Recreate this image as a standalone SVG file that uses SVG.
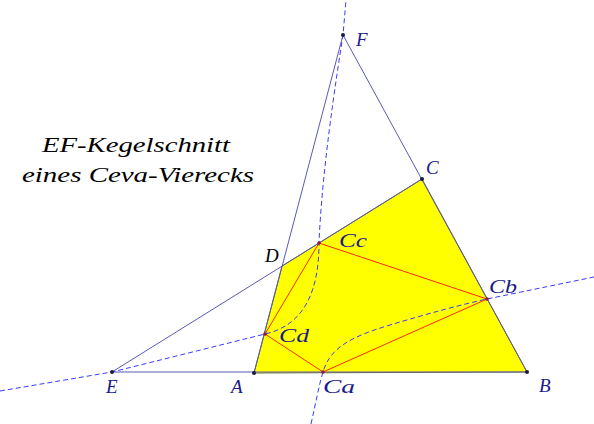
<svg xmlns="http://www.w3.org/2000/svg" width="594" height="424" viewBox="0 0 594 424">
<style>
.line{stroke:#5a5ab4;stroke-width:1;fill:none}
.dash{stroke:#3c3cff;stroke-width:1;fill:none;stroke-dasharray:5 3}
.red{stroke:#ff2a00;stroke-width:1;fill:none}
.lbl{font-family:"Liberation Serif",serif;font-style:italic;font-size:19px;fill:#1a1a8c}
.title{font-family:"Liberation Serif",serif;font-style:italic;font-size:22px;fill:#000}
.pt{fill:#1a1a3c}
</style>
<rect width="594" height="424" fill="#fff"/>
<g id="quad">
<polygon points="254,373 527,372 422,179 282,266" fill="#ffff00" stroke="#6e6e30" stroke-width="1"/>
</g>
<g id="connectors">
<line class="line" x1="343" y1="35" x2="527" y2="372"/>
<line class="line" x1="343" y1="35" x2="254" y2="373"/>
<line class="line" x1="112" y1="372" x2="422" y2="179"/>
<line class="line" x1="112" y1="372" x2="527" y2="372"/>
<path class="dash" d="M0,391 L112,372 L265,334 C305,325 319,290 319,243 C322,170 336,80 343,35 L346,0"/>
<path class="dash" d="M311,424 C316,402 319,385 323,372 C330,348 350,337 390,325 C430,313 460,305 487,299 L594,277"/>
<polygon class="red" points="323,372 487,299 319,243 265,334"/>
</g>
<g id="points">
<circle class="pt" cx="343" cy="35" r="2"/>
<circle class="pt" cx="422" cy="179" r="2"/>
<circle class="pt" cx="527" cy="372" r="2"/>
<circle class="pt" cx="254" cy="373" r="2"/>
<circle class="pt" cx="112" cy="372" r="2"/>
<circle fill="#8b1a3c" cx="323" cy="372" r="1.8"/>
<circle fill="#8b1a3c" cx="487" cy="299" r="1.8"/>
<circle fill="#8b1a3c" cx="319" cy="243" r="1.8"/>
<circle fill="#8b1a3c" cx="265" cy="334" r="1.8"/>
</g>
<g id="labels">
<text class="lbl" x="356" y="46">F</text>
<text class="lbl" x="426" y="174">C</text>
<text class="lbl" x="539" y="392">B</text>
<text class="lbl" x="489" y="293" textLength="28" lengthAdjust="spacingAndGlyphs">Cb</text>
<text class="lbl" x="265" y="262" style="fill:#000">D</text>
<text class="lbl" x="339" y="247" textLength="28" lengthAdjust="spacingAndGlyphs">Cc</text>
<text class="lbl" x="279" y="342" textLength="30" lengthAdjust="spacingAndGlyphs">Cd</text>
<text class="lbl" x="323" y="393" textLength="32" lengthAdjust="spacingAndGlyphs">Ca</text>
<text class="lbl" x="231" y="393">A</text>
<text class="lbl" x="106" y="393">E</text>
</g>
<g id="title">
<text class="title" x="42" y="152" textLength="188" lengthAdjust="spacingAndGlyphs">EF-Kegelschnitt</text>
<text class="title" x="22" y="182" textLength="232" lengthAdjust="spacingAndGlyphs">eines Ceva-Vierecks</text>
</g>
</svg>
